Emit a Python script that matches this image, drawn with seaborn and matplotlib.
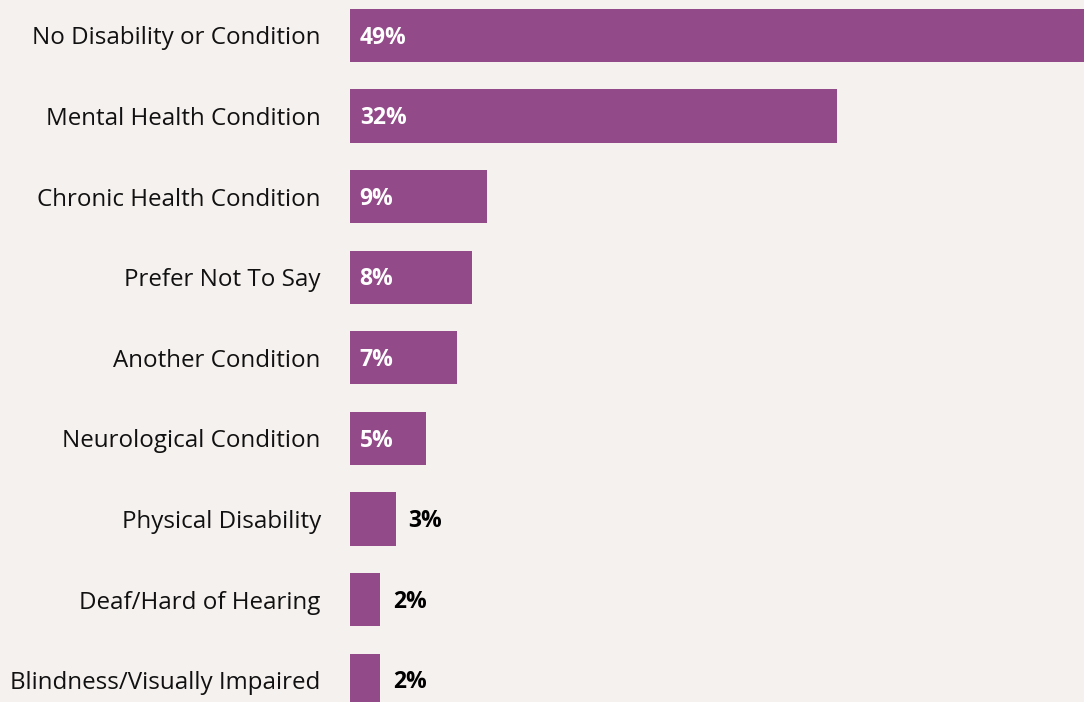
import matplotlib
matplotlib.use("Agg")
import matplotlib.pyplot as plt
import seaborn as sns
import pandas as pd

categories = [
    "No Disability or Condition",
    "Mental Health Condition",
    "Chronic Health Condition",
    "Prefer Not To Say",
    "Another Condition",
    "Neurological Condition",
    "Physical Disability",
    "Deaf/Hard of Hearing",
    "Blindness/Visually Impaired",
]
percentages = [49, 32, 9, 8, 7, 5, 3, 2, 2]

BG = "#F5F1EE"
BAR = "#934A89"

sns.set_theme(style="white")
plt.rcParams["font.family"] = ["Open Sans", "DejaVu Sans"]

df = pd.DataFrame({"category": categories, "pct": percentages})

fig = plt.figure(figsize=(10.84, 7.02), dpi=100, facecolor=BG)
ax = fig.add_axes([350 / 1084, 0, 734 / 1084, 1])
ax.set_facecolor(BG)

sns.barplot(data=df, y="category", x="pct", orient="h", color=BAR,
            saturation=1, width=0.66, linewidth=0, ax=ax)

ax.set_xlim(0, 48.2)
ax.set_ylim(8.27, -0.44)
ax.set_xlabel("")
ax.set_ylabel("")
ax.set_xticks([])
for s in ax.spines.values():
    s.set_visible(False)
ax.tick_params(axis="y", length=0, pad=21, labelsize=17.4, labelcolor="#111111")

# values: white inside the longer bars, black just past the short ones
for i, v in enumerate(percentages):
    if v >= 5:
        ax.annotate(f"{v}%", (0, i), xytext=(7, -1.5), textcoords="offset points",
                    ha="left", va="center", color="white", fontsize=16.5,
                    fontweight="bold")
    else:
        ax.annotate(f"{v}%", (v, i), xytext=(9, -1.5), textcoords="offset points",
                    ha="left", va="center", color="black", fontsize=16.5,
                    fontweight="bold")

fig.savefig("out.png", dpi=100, facecolor=BG)
